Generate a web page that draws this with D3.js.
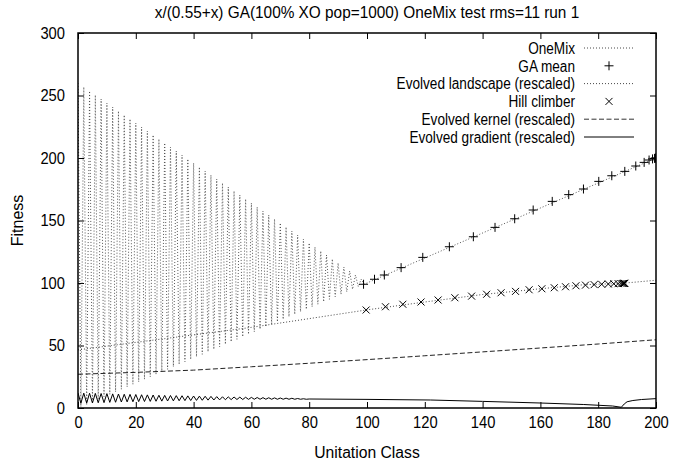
<!DOCTYPE html>
<html>
<head>
<meta charset="utf-8">
<script src="https://cdn.jsdelivr.net/npm/d3@7"></script>
<style>
  html, body { margin: 0; padding: 0; background: #fff; }
  svg { display: block; font-family: "Liberation Sans", Arial, Helvetica, sans-serif; }
</style>
</head>
<body>
<svg id="chart" width="700" height="465"></svg>
<script>
// ---- data ----------------------------------------------------------------
const chartTitle = "x/(0.55+x) GA(100% XO pop=1000) OneMix test rms=11 run 1";
const xTicks = [0, 20, 40, 60, 80, 100, 120, 140, 160, 180, 200];
const yTicks = [0, 50, 100, 150, 200, 250, 300];

// OneMix below half unitation: even classes sit on the falling upper edge,
// odd classes on the rising lower edge; above half it is a straight line.
const oneMixEven = [260, 256.8, 253.6, 250.4, 247.2, 244, 240.8, 237.6, 234.4, 231.2,
  228, 224.8, 221.6, 218.4, 215.2, 212, 208.8, 205.6, 202.4, 199.2,
  196, 192.8, 189.6, 186.4, 183.2, 180, 176.8, 173.6, 170.4, 167.2,
  164, 160.8, 157.6, 154.4, 151.2, 148, 144.8, 141.6, 138.4, 135.2,
  132, 128.8, 125.6, 122.4, 119.2, 116, 112.8, 109.6, 106.4, 103.2];
const oneMixOdd = [1, 3, 5, 7, 9, 11, 13, 15, 17, 19, 21, 23, 25, 27, 29, 31, 33, 35, 37, 39,
  41, 43, 45, 47, 49, 51, 53, 55, 57, 59, 61, 63, 65, 67, 69, 71, 73, 75, 77, 79,
  81, 83, 85, 87, 89, 91, 93, 95, 97, 99];
const oneMixTailX = [100, 200];
const oneMixTailY = [100, 200];

// GA population mean (unitation, fitness)
const gaMeanX = [98.8, 102.6, 106, 111.8, 119.3, 128.5, 136.8, 144.3, 151.1, 157.5, 164.1,
  169.8, 174.9, 180.2, 184.7, 189.2, 193, 195.9, 197.6, 198.8, 199.5, 199.8, 200];
const gaMeanY = [99, 103, 106.4, 112.3, 120.5, 129, 137, 144.5, 151.4, 158.4, 165.3,
  170.7, 175.2, 181.3, 185.8, 189.3, 193.6, 196.5, 198.4, 199.3, 199.7, 199.9, 200];

// Evolved landscape (rescaled)
const landscapeX = [0, 10, 20, 30, 40, 50, 60, 70, 80, 90, 100, 120, 140, 160, 175, 188, 200];
const landscapeY = [46.5, 49.5, 52.5, 55.5, 58.5, 61.5, 64.5, 68, 71.5, 75, 78.5, 84.8,
  90.8, 95.4, 98.6, 99.7, 102.2];

// Hill climber trajectory
const hillX = [99.7, 106.4, 112.4, 118.7, 124.6, 130.4, 136.2, 141.4, 146.4, 151.4, 156.1,
  160.5, 164.8, 168.7, 172.3, 175.6, 178.6, 181.2, 183.5, 185.4, 186.9, 187.9, 188.5,
  188.8, 189, 189.1, 189.2];
const hillY = [78.4, 81, 83, 84.8, 86.4, 88.2, 89.5, 91, 92.2, 93.3, 94.6, 95.4, 96.2,
  97, 97.8, 98.3, 98.7, 99, 99.2, 99.4, 99.5, 99.6, 99.6, 99.7, 99.7, 99.7, 99.7];

// Evolved kernel (rescaled)
const kernelX = [0, 20, 40, 60, 80, 100, 120, 140, 160, 180, 200];
const kernelY = [27, 28.5, 30.3, 33, 35.8, 38.7, 41.8, 44.9, 48, 51.2, 54.6];

// Evolved gradient (rescaled): alternating even/odd classes up to 80, smooth after
const gradientEven = [12.0, 11.9, 11.8, 11.7, 11.6, 11.5, 11.3, 11.2, 11.0, 10.9, 10.8,
  10.6, 10.5, 10.4, 10.2, 10.1, 10.0, 9.9, 9.8, 9.7, 9.6, 9.5, 9.4, 9.3, 9.1, 9.0, 8.9,
  8.8, 8.7, 8.6, 8.5, 8.4, 8.3, 8.2, 8.1, 8.0, 7.9, 7.8, 7.6, 7.4];
const gradientOdd = [3.8, 3.9, 4.0, 4.2, 4.3, 4.5, 4.6, 4.8, 4.9, 5.0, 5.1, 5.2, 5.3,
  5.4, 5.5, 5.6, 5.7, 5.8, 5.9, 6.0, 6.1, 6.2, 6.3, 6.4, 6.5, 6.6, 6.7, 6.8, 6.8, 6.9,
  7.0, 7.0, 7.0, 7.0, 7.0, 7.0, 7.0, 7.0, 7.0, 7.0];
const gradientTailX = [80, 100, 122, 140, 160, 175, 185, 188, 189, 190, 192, 195, 200];
const gradientTailY = [7.2, 6.9, 6.4, 5.3, 4.0, 2.8, 1.6, 0.6, 3.2, 5.0, 6.0, 6.8, 7.5];

// ---- assemble series -------------------------------------------------------
const oneMix = [];
for (let i = 0; i < oneMixEven.length; i++) {
  oneMix.push([2 * i, oneMixEven[i]]);
  oneMix.push([2 * i + 1, oneMixOdd[i]]);
}
oneMixTailX.forEach((v, i) => oneMix.push([v, oneMixTailY[i]]));

const gradient = [];
for (let i = 0; i < gradientEven.length; i++) {
  gradient.push([2 * i, gradientEven[i]]);
  gradient.push([2 * i + 1, gradientOdd[i]]);
}
gradientTailX.forEach((v, i) => gradient.push([v, gradientTailY[i]]));

const zip = (xs, ys) => xs.map((v, i) => [v, ys[i]]);
const gaMean = zip(gaMeanX, gaMeanY);
const landscape = zip(landscapeX, landscapeY);
const hill = zip(hillX, hillY);
const kernel = zip(kernelX, kernelY);

// ---- layout ----------------------------------------------------------------
const svg = d3.select("#chart");
const M = { left: 78, right: 656, top: 33, bottom: 408 };
const x = d3.scaleLinear().domain([0, 200]).range([M.left, M.right]);
const y = d3.scaleLinear().domain([0, 300]).range([M.bottom, M.top]);
const line = d3.line().x(d => x(d[0])).y(d => y(d[1]));

// narrow the glyph run of a text element to a fraction of its natural width
function squeeze(sel, k) {
  sel.each(function () {
    const w = this.getComputedTextLength();
    if (w > 0) d3.select(this).attr("textLength", w * k).attr("lengthAdjust", "spacingAndGlyphs");
  });
}

const tickFont = 16;

// axes with inward ticks, mirrored on top and right
const axB = svg.append("g").attr("transform", `translate(0,${M.bottom})`)
  .call(d3.axisBottom(x).tickValues(xTicks).tickSizeInner(-6).tickSizeOuter(0).tickPadding(9));
const axT = svg.append("g").attr("transform", `translate(0,${M.top})`)
  .call(d3.axisTop(x).tickValues(xTicks).tickSizeInner(-6).tickSizeOuter(0).tickFormat(""));
const axL = svg.append("g").attr("transform", `translate(${M.left},0)`)
  .call(d3.axisLeft(y).tickValues(yTicks).tickSizeInner(-6).tickSizeOuter(0).tickPadding(13));
const axR = svg.append("g").attr("transform", `translate(${M.right},0)`)
  .call(d3.axisRight(y).tickValues(yTicks).tickSizeInner(-6).tickSizeOuter(0).tickFormat(""));
[axB, axT, axL, axR].forEach(g => {
  g.select(".domain").remove();
  g.selectAll("line").attr("stroke", "#000").attr("stroke-width", 1);
  g.selectAll("text").attr("font-size", tickFont).attr("fill", "#000")
    .attr("font-family", "Liberation Sans, Arial, sans-serif");
  squeeze(g.selectAll("text"), 0.92);
});

// plotted series, clipped to the frame
svg.append("clipPath").attr("id", "plotclip").append("rect")
  .attr("x", M.left).attr("y", M.top).attr("width", M.right - M.left).attr("height", M.bottom - M.top);
const plot = svg.append("g").attr("clip-path", "url(#plotclip)");

plot.append("path").datum(oneMix).attr("d", line)
  .attr("fill", "none").attr("stroke", "#444").attr("stroke-width", 0.9)
  .attr("stroke-dasharray", "1,2");

plot.append("path").datum(landscape).attr("d", line)
  .attr("fill", "none").attr("stroke", "#333").attr("stroke-width", 0.9)
  .attr("stroke-dasharray", "1,2");

plot.append("path").datum(kernel).attr("d", line)
  .attr("fill", "none").attr("stroke", "#222").attr("stroke-width", 1)
  .attr("stroke-dasharray", "5,2.5");

plot.append("path").datum(gradient).attr("d", line)
  .attr("fill", "none").attr("stroke", "#000").attr("stroke-width", 1);

const plusPath = s => `M${-s},0H${s}M0,${-s}V${s}`;
const crossPath = s => `M${-s},${-s}L${s},${s}M${-s},${s}L${s},${-s}`;

plot.append("g").selectAll("path").data(gaMean).join("path")
  .attr("transform", d => `translate(${x(d[0])},${y(d[1])})`)
  .attr("d", plusPath(4.5)).attr("stroke", "#000").attr("stroke-width", 1).attr("fill", "none");

plot.append("g").selectAll("path").data(hill).join("path")
  .attr("transform", d => `translate(${x(d[0])},${y(d[1])})`)
  .attr("d", crossPath(3.5)).attr("stroke", "#000").attr("stroke-width", 1).attr("fill", "none");

// frame
svg.append("rect").attr("x", M.left).attr("y", M.top)
  .attr("width", M.right - M.left).attr("height", M.bottom - M.top)
  .attr("fill", "none").attr("stroke", "#000").attr("stroke-width", 1.5);

// legend
const legendItems = [
  { label: "OneMix", kind: "dotted" },
  { label: "GA mean", kind: "plus" },
  { label: "Evolved landscape (rescaled)", kind: "dotted" },
  { label: "Hill climber", kind: "cross" },
  { label: "Evolved kernel (rescaled)", kind: "dashed" },
  { label: "Evolved gradient (rescaled)", kind: "solid" }
];
const legTextX = 575, legX0 = 584, legX1 = 634, legY0 = 48, legDy = 17.8;
const leg = svg.append("g");
legendItems.forEach((it, i) => {
  const yy = legY0 + i * legDy;
  const t = leg.append("text").attr("x", legTextX).attr("y", yy).attr("dy", "0.36em")
    .attr("text-anchor", "end").attr("font-size", 16).attr("fill", "#000").text(it.label);
  squeeze(t, 0.85);
  const cx = (legX0 + legX1) / 2;
  if (it.kind === "plus") {
    leg.append("path").attr("transform", `translate(${cx},${yy})`).attr("d", plusPath(4.5))
      .attr("stroke", "#000").attr("fill", "none");
  } else if (it.kind === "cross") {
    leg.append("path").attr("transform", `translate(${cx},${yy})`).attr("d", crossPath(3.5))
      .attr("stroke", "#000").attr("fill", "none");
  } else {
    const l = leg.append("line").attr("x1", legX0).attr("x2", legX1).attr("y1", yy).attr("y2", yy)
      .attr("stroke", it.kind === "solid" ? "#000" : "#333").attr("stroke-width", it.kind === "dotted" ? 0.9 : 1);
    if (it.kind === "dotted") l.attr("stroke-dasharray", "1,2");
    if (it.kind === "dashed") l.attr("stroke-dasharray", "5,2.5");
  }
});

// titles
const tt = svg.append("text").attr("x", (M.left + M.right) / 2).attr("y", 18)
  .attr("text-anchor", "middle").attr("font-size", 16).attr("fill", "#000").text(chartTitle);
squeeze(tt, 0.96);
const xl = svg.append("text").attr("x", (M.left + M.right) / 2).attr("y", 458)
  .attr("text-anchor", "middle").attr("font-size", 16).attr("fill", "#000").text("Unitation Class");
squeeze(xl, 0.98);
svg.append("text").attr("transform", `translate(23,${(M.top + M.bottom) / 2}) rotate(-90)`)
  .attr("text-anchor", "middle").attr("font-size", 16).attr("fill", "#000").text("Fitness");
</script>
</body>
</html>
